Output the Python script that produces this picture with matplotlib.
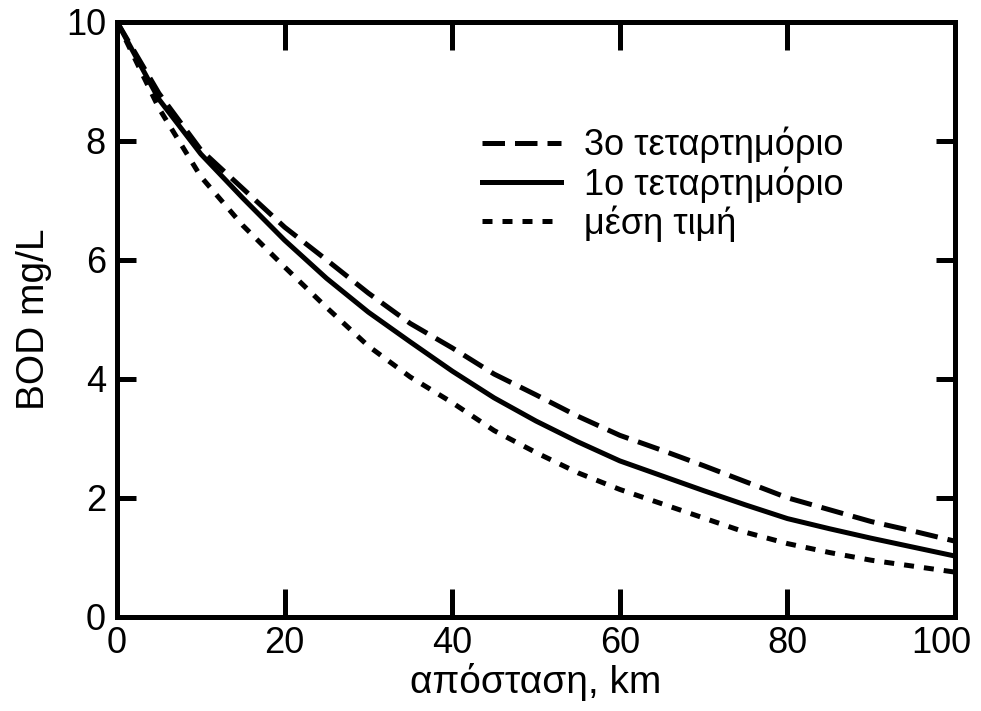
import matplotlib.pyplot as plt
import matplotlib.transforms as mtransforms
import numpy as np

plt.rcParams['font.family'] = ['Liberation Sans', 'DejaVu Sans']

# distance along the river, km
dist = [0, 5, 10, 15, 20, 25, 30, 35, 40, 45, 50, 55, 60, 65, 70, 75, 80, 85, 90, 95, 100]
# BOD, mg/L
q3 = [10, 8.8, 7.85, 7.2, 6.55, 6.0, 5.44, 4.93, 4.52, 4.08, 3.73, 3.37, 3.05, 2.8, 2.54,
      2.27, 2.0, 1.8, 1.6, 1.44, 1.27]
q1 = [10, 8.7, 7.78, 7.04, 6.33, 5.69, 5.12, 4.62, 4.13, 3.68, 3.29, 2.94, 2.62, 2.37, 2.12,
      1.88, 1.65, 1.48, 1.32, 1.17, 1.02]
mean = [10, 8.55, 7.4, 6.58, 5.88, 5.2, 4.55, 4.03, 3.6, 3.13, 2.76, 2.42, 2.14, 1.9, 1.66,
        1.42, 1.23, 1.08, 0.95, 0.85, 0.75]

labels = ['3ο τεταρτημόριο', '1ο τεταρτημόριο', 'μέση τιμή']

fig = plt.figure(figsize=(9.81, 7.11), dpi=100)
ax = fig.add_axes([0.1193, 0.1326, 0.8542, 0.8365])

lw = 3.6
ax.plot(dist, q3, color='black', lw=lw, dashes=(4.5, 2.0), label=labels[0])
ax.plot(dist, q1, color='black', lw=lw, label=labels[1])
ax.plot(dist, mean, color='black', lw=lw, dashes=(2.0, 2.0), label=labels[2])

ax.set_xlim(0, 100)
ax.set_ylim(0, 10)
ax.set_xticks(np.arange(0, 101, 20))
ax.set_yticks(np.arange(0, 11, 2))

for s in ax.spines.values():
    s.set_linewidth(3.6)

ax.tick_params(axis='both', direction='in', width=3.6, labelsize=26,
               top=True, right=True)
ax.tick_params(axis='x', length=20, pad=7)
ax.tick_params(axis='y', length=14, pad=8)

# last x label sits a little to the left so it stays inside the figure
lbl = ax.get_xticklabels()[-1]
lbl.set_transform(lbl.get_transform() +
                  mtransforms.ScaledTranslation(-14 / 100, 0, fig.dpi_scale_trans))

ax.set_xlabel('απόσταση, km', fontsize=28, labelpad=1)
ax.set_ylabel('BOD mg/L', fontsize=28, labelpad=10)

ax.legend(loc='upper left', bbox_to_anchor=(0.4356, 0.824), frameon=False,
          fontsize=26, handlelength=2.2, handletextpad=0.62, labelspacing=0.08,
          borderaxespad=0, borderpad=0)

fig.savefig('out.png', dpi=100)
